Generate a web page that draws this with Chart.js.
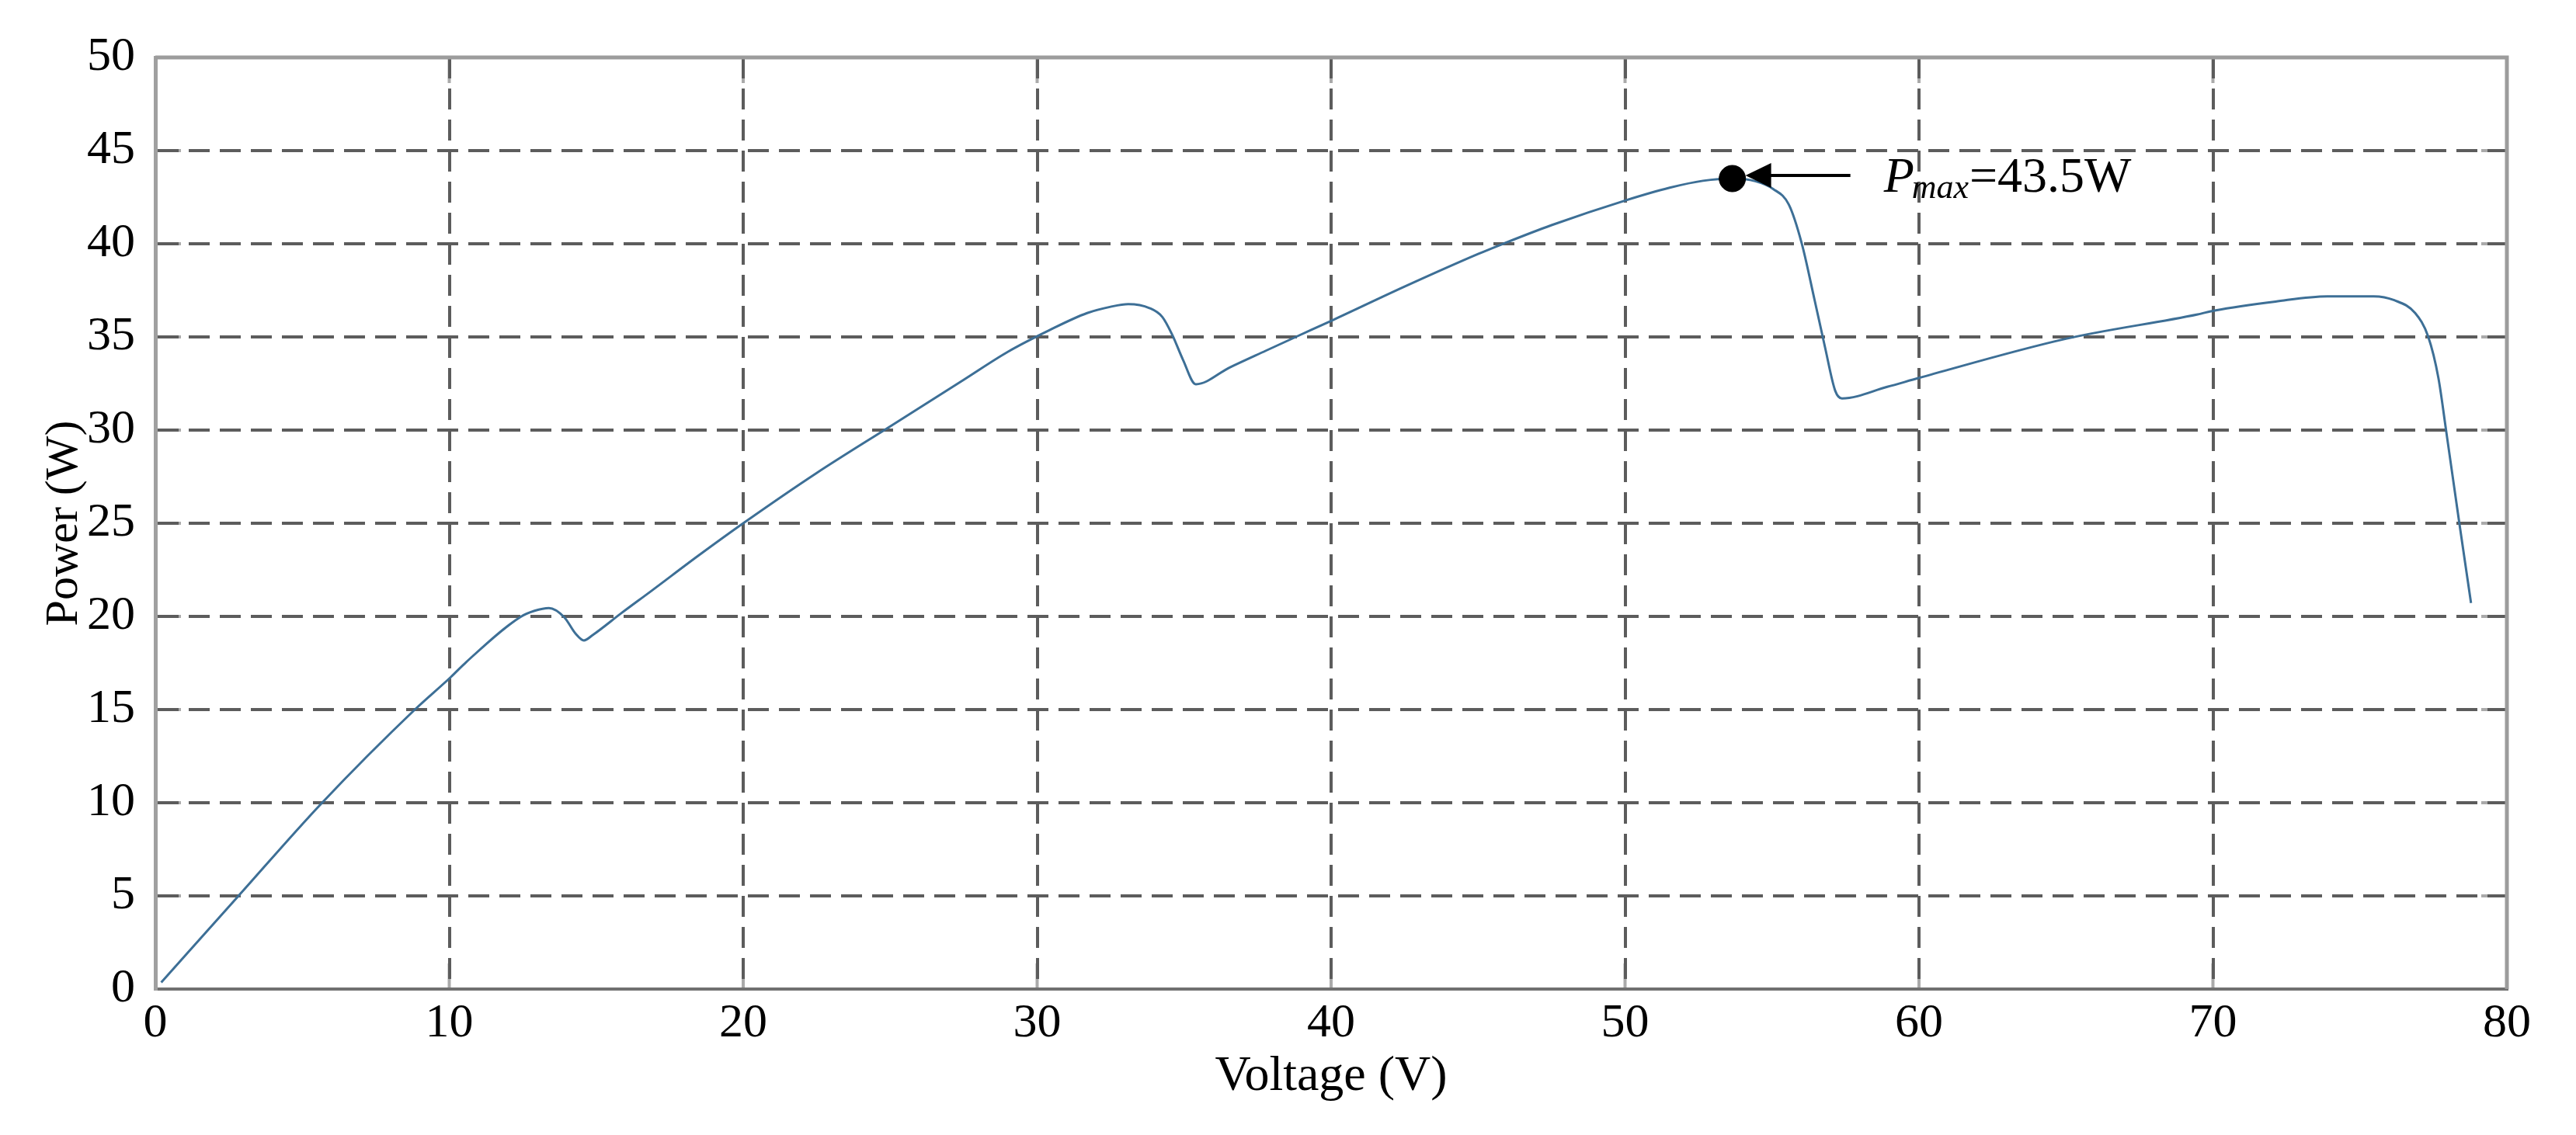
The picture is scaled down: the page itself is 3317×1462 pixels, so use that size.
<!DOCTYPE html>
<html>
<head>
<meta charset="utf-8">
<title>P-V curve</title>
<script src="https://cdn.jsdelivr.net/npm/chart.js@4.4.1/dist/chart.umd.min.js"></script>
<style>
    html, body { margin: 0; padding: 0; background: #ffffff; }
    #wrap { width: 3317px; height: 1462px; }
</style>
</head>
<body>
<div id="wrap"><canvas id="pvChart" width="3317" height="1462"></canvas></div>
<script>
// P-V curve (V, W)
const voltage = [0.2, 2.83, 5.65, 8.85, 10.05, 10.57, 12.41, 12.9, 13.39, 13.91, 14.31, 14.58, 14.88, 15.85, 16.86,
    18.49, 20.0, 22.5, 25.0, 27.5, 29.0, 30.4, 31.7, 32.5, 33.1, 33.82, 34.26, 34.6, 34.96, 35.4,
    36.55, 37.78, 38.8, 40.0, 42.5, 45.0, 45.9, 47.5, 50.0, 51.52, 52.65, 53.65, 54.43, 55.04, 55.57,
    56.01, 56.45, 56.8, 57.15, 57.38, 58.92, 60.0, 65.0, 69.48, 70.06, 72.13, 73.89, 75.47, 76.17,
    76.88, 77.32, 77.67, 77.94, 78.38, 78.78];
const power = [0.35, 5.0, 9.96, 15.03, 16.74, 17.54, 19.96, 20.3, 20.45, 19.96, 19.05, 18.71, 19.0, 20.17, 21.35,
    23.28, 25.0, 27.7, 30.2, 32.7, 34.2, 35.35, 36.28, 36.62, 36.76, 36.55, 36.07, 35.1, 33.78, 32.46,
    33.36, 34.26, 35.0, 35.86, 37.7, 39.45, 40.03, 41.0, 42.32, 43.01, 43.38, 43.5, 43.36, 42.94, 42.11,
    40.03, 36.97, 34.47, 32.11, 31.7, 32.32, 32.8, 34.9, 36.21, 36.42, 36.9, 37.18, 37.18, 36.97,
    36.28, 35.03, 32.8, 29.89, 25.03, 20.72];

// Maximum power point marker
const pmaxVoltage = 53.65;
const pmaxPower = 43.5;
const pmaxLabel = '=43.5W';

// Axis ticks
const xTicks = [0, 10, 20, 30, 40, 50, 60, 70, 80];
const yTicks = [0, 5, 10, 15, 20, 25, 30, 35, 40, 45, 50];

const SERIF = "'Liberation Serif', 'Times New Roman', 'DejaVu Serif', serif";
const GRID = '#5c5c5c';

// grid lines on the frame edges are hidden, the frame draws them
const gridColor = (axisTicks) => (ctx) => {
    const v = ctx.tick ? ctx.tick.value : null;
    return (v === axisTicks[0] || v === axisTicks[axisTicks.length - 1]) ? 'rgba(0,0,0,0)' : GRID;
};

// inner tick marks and the top / right frame lines
const framePlugin = {
    id: 'frame',
    beforeDraw(chart) {
        const { ctx, chartArea: a, scales } = chart;
        ctx.save();
        ctx.strokeStyle = '#aaaaaa';
        ctx.lineWidth = 4;
        ctx.beginPath();
        yTicks.forEach(t => {
            const y = scales.y.getPixelForValue(t);
            ctx.moveTo(a.left, y); ctx.lineTo(a.left + 33, y);
            ctx.moveTo(a.right, y); ctx.lineTo(a.right - 33, y);
        });
        xTicks.forEach(t => {
            const x = scales.x.getPixelForValue(t);
            ctx.moveTo(x, a.bottom); ctx.lineTo(x, a.bottom - 33);
            ctx.moveTo(x, a.top); ctx.lineTo(x, a.top + 33);
        });
        ctx.stroke();
        ctx.restore();
    },
    beforeDatasetsDraw(chart) {
        const { ctx, chartArea: a } = chart;
        ctx.save();
        ctx.strokeStyle = '#9c9c9c';
        ctx.lineWidth = 5;
        ctx.beginPath();
        ctx.moveTo(a.left, a.top); ctx.lineTo(a.right, a.top);
        ctx.lineTo(a.right, a.bottom);
        ctx.stroke();
        ctx.restore();
    }
};

// arrow and P_max label next to the marker
const pmaxPlugin = {
    id: 'pmax',
    afterDatasetsDraw(chart) {
        const { ctx, scales } = chart;
        const px = scales.x.getPixelForValue(pmaxVoltage);
        const py = scales.y.getPixelForValue(pmaxPower) - 4;
        ctx.save();
        ctx.fillStyle = '#000';
        ctx.strokeStyle = '#000';
        ctx.lineWidth = 4;
        ctx.beginPath();
        ctx.moveTo(px + 45, py); ctx.lineTo(px + 152, py);
        ctx.stroke();
        ctx.beginPath();
        ctx.moveTo(px + 17, py);
        ctx.lineTo(px + 50, py - 16);
        ctx.lineTo(px + 50, py + 16);
        ctx.closePath();
        ctx.fill();

        const tx = px + 195, base = py + 21;
        ctx.textBaseline = 'alphabetic';
        ctx.textAlign = 'left';
        ctx.font = 'italic 64px ' + SERIF;
        ctx.fillText('P', tx, base);
        ctx.font = 'italic 44px ' + SERIF;
        ctx.fillText('max', tx + 36, base + 8);
        const mw = ctx.measureText('max').width;
        ctx.font = '64px ' + SERIF;
        ctx.fillText(pmaxLabel, tx + 36 + mw + 1, base);
        ctx.restore();
    }
};

const pvChart = new Chart(document.getElementById('pvChart'), {
    type: 'scatter',
    data: {
        datasets: [{
            label: 'Pmax',
            data: [{ x: pmaxVoltage, y: pmaxPower }],
            backgroundColor: '#000',
            borderColor: '#000',
            pointRadius: 17,
            showLine: false,
            order: 0
        }, {
            label: 'Power',
            data: voltage.map((v, i) => ({ x: v, y: power[i] })),
            showLine: true,
            borderColor: '#3d6f96',
            borderWidth: 3,
            pointRadius: 0,
            cubicInterpolationMode: 'monotone',
            fill: false,
            order: 1
        }]
    },
    options: {
        responsive: false,
        animation: false,
        devicePixelRatio: 1,
        layout: { padding: { left: 0, top: 74, right: 89, bottom: 0 } },
        plugins: {
            legend: { display: false },
            tooltip: { enabled: false }
        },
        scales: {
            x: {
                type: 'linear',
                min: xTicks[0],
                max: xTicks[xTicks.length - 1],
                afterFit: (scale) => { scale.height = 188; },
                afterBuildTicks: (scale) => { scale.ticks = xTicks.map(v => ({ value: v })); },
                ticks: {
                    color: '#000',
                    font: { family: SERIF, size: 62 },
                    padding: 8,
                    maxRotation: 0
                },
                grid: {
                    color: gridColor(xTicks),
                    lineWidth: 4,
                    drawTicks: false
                },
                border: { display: true, color: '#707070', width: 4, dash: [27, 13] },
                title: {
                    display: true,
                    text: 'Voltage (V)',
                    color: '#000',
                    font: { family: SERIF, size: 64 },
                    padding: { top: 0, bottom: 36 }
                }
            },
            y: {
                type: 'linear',
                min: yTicks[0],
                max: yTicks[yTicks.length - 1],
                afterFit: (scale) => { scale.width = 200; },
                afterBuildTicks: (scale) => { scale.ticks = yTicks.map(v => ({ value: v })); },
                ticks: {
                    color: '#000',
                    font: { family: SERIF, size: 62 },
                    padding: 26
                },
                grid: {
                    color: gridColor(yTicks),
                    lineWidth: 4,
                    drawTicks: false
                },
                border: { display: true, color: '#a0a0a0', width: 5, dash: [27, 13] },
                title: {
                    display: true,
                    text: 'Power (W)',
                    color: '#000',
                    font: { family: SERIF, size: 60 },
                    padding: { top: 47, bottom: 0 }
                }
            }
        }
    },
    plugins: [framePlugin, pmaxPlugin]
});
</script>
</body>
</html>
